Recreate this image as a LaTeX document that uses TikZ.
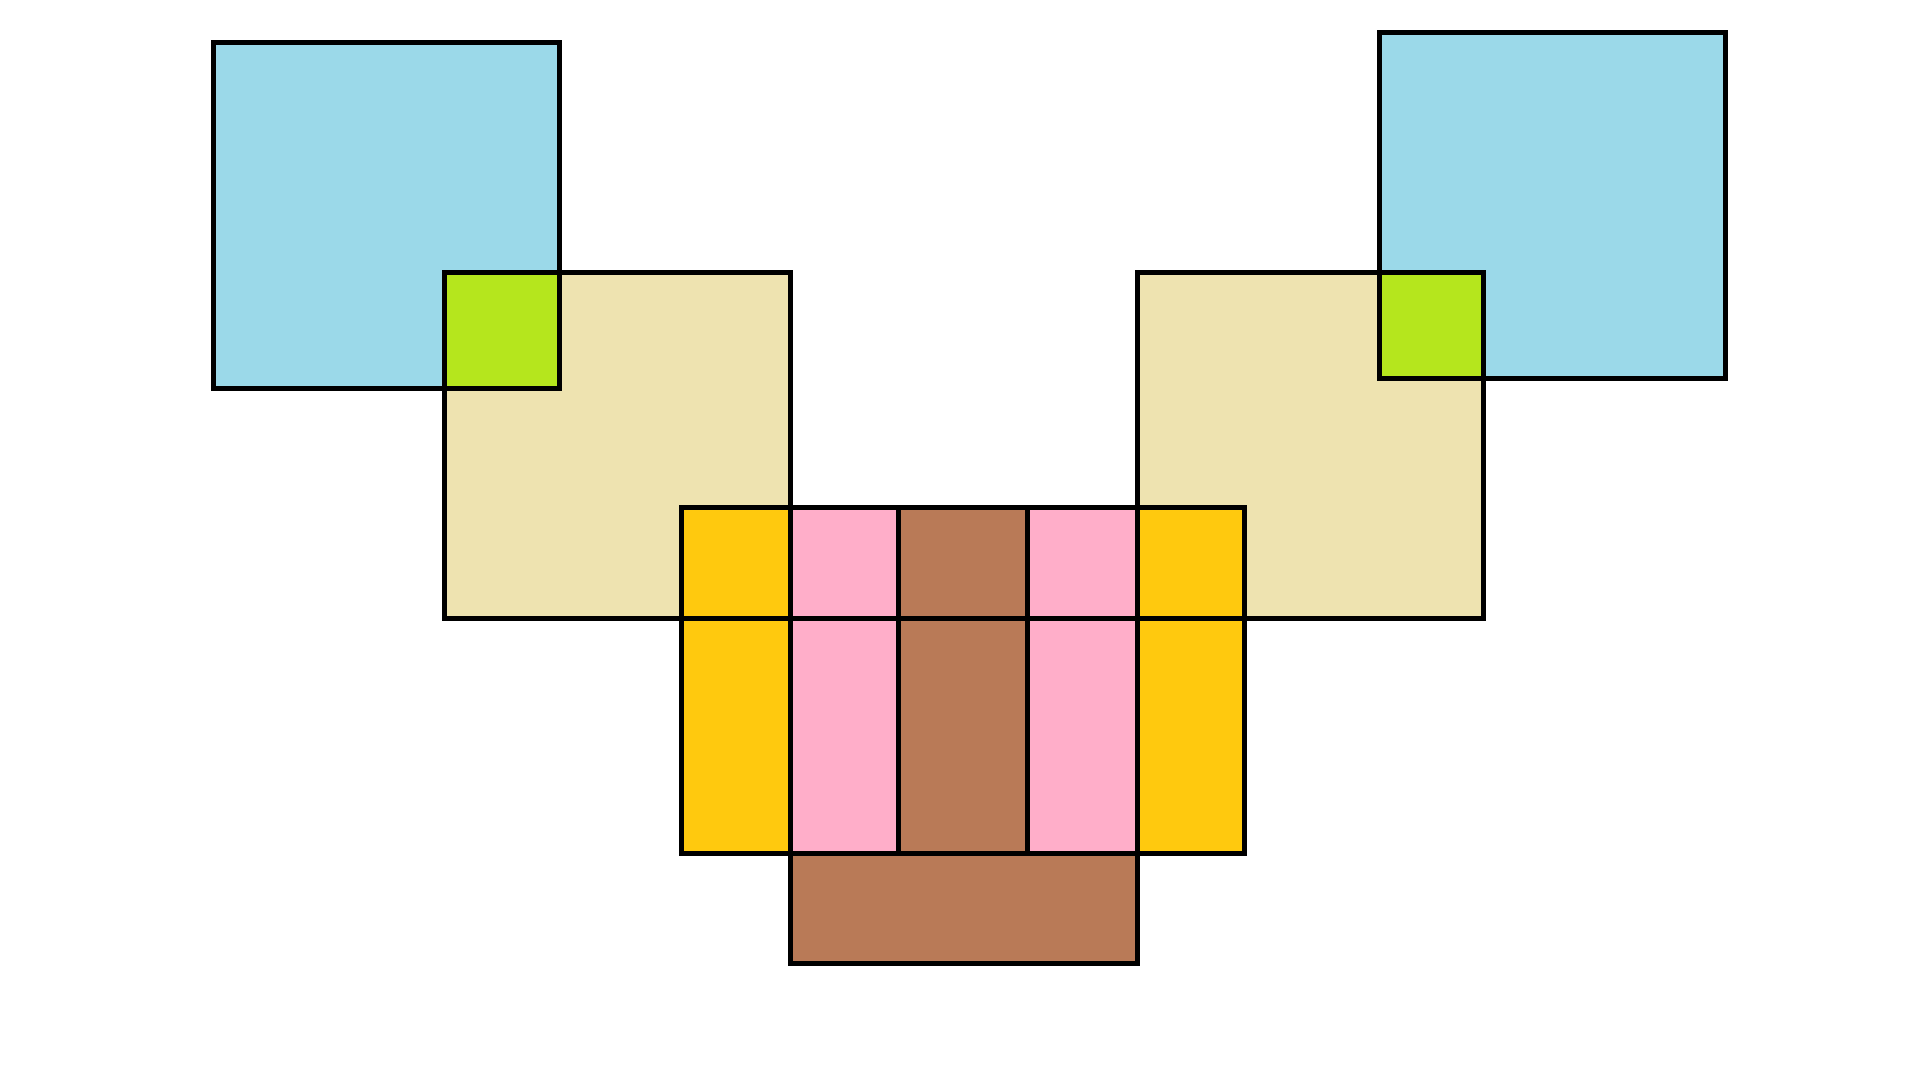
\documentclass[tikz,border=0pt]{standalone}
\definecolor{skyb}{HTML}{9BD9E9}
\definecolor{tanc}{HTML}{EEE3B0}
\definecolor{limec}{HTML}{B5E61D}
\definecolor{goldc}{HTML}{FFC90E}
\definecolor{rosec}{HTML}{FFAEC9}
\definecolor{brownc}{HTML}{B97A57}
\tikzset{edge/.style={draw=black,line width=5pt,line join=miter}}
\begin{document}
\begin{tikzpicture}[x=1pt,y=-1pt]
\useasboundingbox[fill=white] (0,0) rectangle (1920,1080);
% fills
\fill[skyb] (213.5,42.5) rectangle (559.7,388.1);
\fill[skyb] (1379.6,32.5) rectangle (1725.7,378);
\fill[tanc] (444.2,272) rectangle (790.5,618);
\fill[tanc] (1137.6,272) rectangle (1483.3,618);
\fill[limec] (444.2,272) rectangle (559.7,388.1);
\fill[limec] (1379.6,272) rectangle (1483.3,378);
\fill[goldc] (681.8,507) rectangle (1244.4,853);
\fill[rosec] (790.5,507) rectangle (898.8,853);
\fill[rosec] (1027.4,507) rectangle (1137.6,853);
\fill[brownc] (898.8,507) rectangle (1027.4,853);
\fill[brownc] (790.5,853) rectangle (1137.6,963);
% outlines
\draw[edge] (213.5,42.5) rectangle (559.7,388.1);
\draw[edge] (1379.6,32.5) rectangle (1725.7,378);
\draw[edge] (444.2,272) rectangle (790.5,618);
\draw[edge] (1137.6,272) rectangle (1483.3,618);
\draw[edge] (681.8,507) rectangle (1244.4,853);
\draw[edge] (681.8,618) -- (1244.4,618);
\draw[edge] (790.5,507) -- (790.5,853);
\draw[edge] (898.8,507) -- (898.8,853);
\draw[edge] (1027.4,507) -- (1027.4,853);
\draw[edge] (1137.6,507) -- (1137.6,853);
\draw[edge] (790.5,853) rectangle (1137.6,963);
\end{tikzpicture}
\end{document}
